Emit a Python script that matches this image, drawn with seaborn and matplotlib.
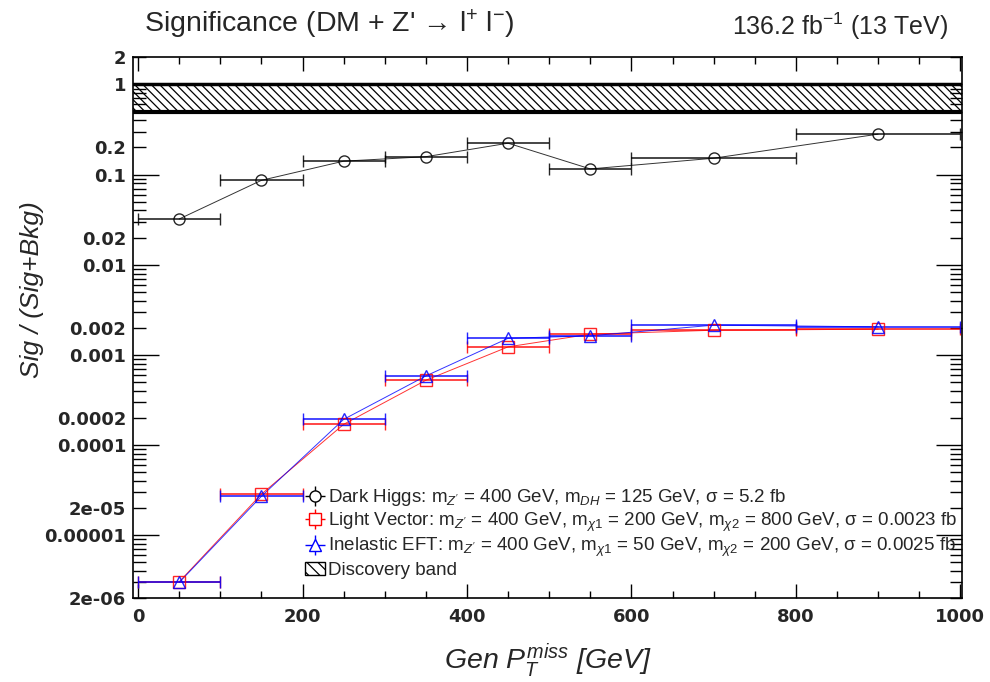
import numpy as np
import pandas as pd
import matplotlib
matplotlib.use("Agg")
import matplotlib.pyplot as plt
import matplotlib.patches as mpatches
from matplotlib.lines import Line2D
import seaborn as sns

# ---- data ----
bin_centers = [50, 150, 250, 350, 450, 550, 700, 900]
bin_halfwidths = [50, 50, 50, 50, 50, 50, 100, 100]
dark_higgs = [0.0322, 0.0864, 0.141, 0.158, 0.223, 0.1156, 0.152, 0.281]
light_vector = [3.05e-6, 2.86e-5, 1.70e-4, 5.24e-4, 1.23e-3, 1.70e-3, 1.88e-3, 1.93e-3]
inelastic_eft = [3.0e-6, 2.71e-5, 1.93e-4, 5.85e-4, 1.53e-3, 1.63e-3, 2.14e-3, 2.05e-3]
band_low, band_high = 0.5, 1.0

labels = [
    r"Dark Higgs: m$_{Z'}$ = 400 GeV, m$_{DH}$ = 125 GeV, σ = 5.2 fb",
    r"Light Vector: m$_{Z'}$ = 400 GeV, m$_{\chi1}$ = 200 GeV, m$_{\chi2}$ = 800 GeV, σ = 0.0023 fb",
    r"Inelastic EFT: m$_{Z'}$ = 400 GeV, m$_{\chi1}$ = 50 GeV, m$_{\chi2}$ = 200 GeV, σ = 0.0025 fb",
    "Discovery band",
]
major_y = [1e-5, 1e-4, 1e-3, 1e-2, 1e-1, 1]
major_y_labels = ["0.00001", "0.0001", "0.001", "0.01", "0.1", "1"]
minor_lab_y = [2e-6, 2e-5, 2e-4, 2e-3, 2e-2, 2e-1, 2]
minor_lab_labels = ["2e-06", "2e-05", "0.0002", "0.002", "0.02", "0.2", "2"]

# ---- style ----
sns.set_theme(style="ticks")
plt.rcParams["font.family"] = ["Liberation Sans", "DejaVu Sans"]
plt.rcParams["mathtext.fontset"] = "custom"
plt.rcParams["mathtext.rm"] = "Liberation Sans"
plt.rcParams["mathtext.it"] = "Liberation Sans:italic"
plt.rcParams["mathtext.bf"] = "Liberation Sans:bold"
plt.rcParams["hatch.linewidth"] = 0.9

fig = plt.figure(figsize=(9.9, 6.82), dpi=100)
ax = fig.add_axes([0.1345, 0.1227, 0.8372, 0.7933])

df = pd.DataFrame({"x": bin_centers, "xe": bin_halfwidths, "dh": dark_higgs,
                   "lv": light_vector, "ie": inelastic_eft})

series = [("dh", "black", "o"), ("lv", "red", "s"), ("ie", "blue", "^")]
handles = []
for col, color, mk in series:
    sns.lineplot(data=df, x="x", y=col, ax=ax, color=color, lw=0.7, alpha=0.8)
    ax.errorbar(df["x"], df[col], xerr=df["xe"], fmt=mk, color=color,
                mfc="none", mec=color, ms=8, mew=1.0, elinewidth=1.2,
                capsize=4, capthick=1.0, alpha=0.85)
    hl = Line2D([], [], marker="_", ms=15, mew=1.0, color=color, ls="none")
    vl = Line2D([], [], marker="|", ms=15, mew=1.0, color=color, ls="none")
    mm = Line2D([], [], marker=mk, ms=8, mew=1.0, mec=color, mfc="white", ls="none")
    handles.append((hl, vl, mm))

ax.fill_between([-6, 1002], band_low, band_high, facecolor="none",
                edgecolor="black", hatch="\\\\\\\\", lw=0)
ax.axhline(band_low, color="black", lw=3)
ax.axhline(band_high, color="black", lw=2.5)
band_handle = mpatches.Patch(facecolor="white", edgecolor="black", hatch="\\\\\\", lw=1.0)
handles.append(band_handle)

ax.set_yscale("log")
ax.set_xlim(-6, 1002)
ax.set_ylim(2e-6, 2)

ax.set_xticks([0, 200, 400, 600, 800, 1000])
ax.set_xticks(np.arange(0, 1001, 50), minor=True)
ax.set_yticks(major_y, major_y_labels)
minor_all = [m * 10.0 ** e for e in range(-6, 1) for m in range(2, 10)]
minor_all = [v for v in minor_all if 2e-6 <= v <= 2]
ax.set_yticks(minor_all, [minor_lab_labels[minor_lab_y.index(v)] if v in minor_lab_y else ""
                          for v in minor_all], minor=True)
for l in ax.get_yticklabels(minor=True) + ax.get_yticklabels() + ax.get_xticklabels():
    l.set_fontweight("bold")
    l.set_fontsize(13)
    l.set_family("DejaVu Sans")

ax.tick_params(axis="both", which="both", direction="in", top=True, right=True, color="black")
ax.tick_params(axis="x", which="major", length=10, width=1.0, pad=7)
ax.tick_params(axis="x", which="minor", length=5, width=1.0)
ax.tick_params(axis="y", which="major", length=19, width=1.0, pad=5)
ax.tick_params(axis="y", which="minor", length=9, width=1.0, pad=5)
for s in ax.spines.values():
    s.set_color("black")
    s.set_linewidth(1.2)

ax.set_xlabel(r"Gen $P_{T}^{miss}$ [GeV]", fontsize=20.5, fontstyle="italic", labelpad=11)
ax.set_ylabel("Sig / (Sig+Bkg)", fontsize=19, fontstyle="italic")
ax.yaxis.set_label_coords(-0.107, 0.57)

fig.text(0.145, 0.965, "Significance (DM + Z' → l$^{+}$ l$^{-}$)", fontsize=20.5,
         ha="left", va="center")
fig.text(0.958, 0.962, r"136.2 fb$^{-1}$ (13 TeV)", fontsize=18, ha="right", va="center")

ax.legend(handles=handles, labels=labels, loc="upper left", bbox_to_anchor=(0.207, 0.205),
          frameon=False, fontsize=13.5, handlelength=1.1, handletextpad=0.15,
          labelspacing=0.12, borderaxespad=0, borderpad=0)

fig.savefig("out.png", dpi=100)
